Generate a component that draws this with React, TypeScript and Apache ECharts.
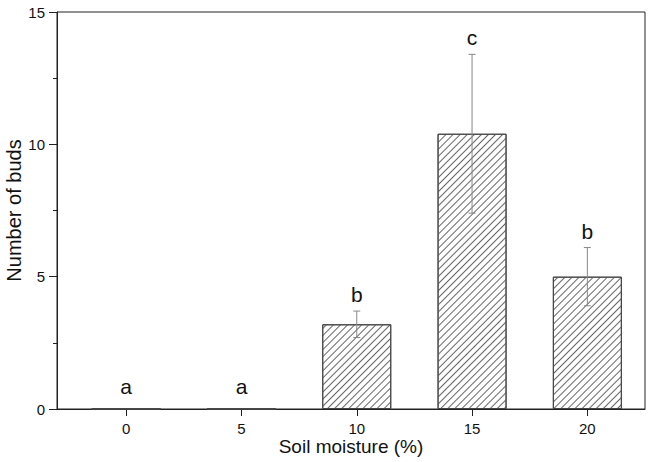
import React, { useEffect, useRef } from "react";
import * as echarts from "echarts";

const moisture = [0, 5, 10, 15, 20];
const buds = [0, 0, 3.2, 10.4, 5.0];
const budErr = [0, 0, 0.5, 3.0, 1.1];
const letters = ["a", "a", "b", "c", "b"];
const xTicks = [0, 5, 10, 15, 20];

const FONT = "'Liberation Sans', Arial, sans-serif";

export default function App() {
  const ref = useRef<HTMLDivElement>(null);
  useEffect(() => {
    document.body.style.margin = "0";
    if (!ref.current) return;
    const chart = echarts.init(ref.current, undefined, { renderer: "svg" });
    const barData = moisture.map((m, i) => [m, buds[i]]);
    const errData = moisture.map((m, i) => [m, buds[i] - budErr[i], buds[i] + budErr[i]]);
    const letterData = moisture.map((m, i) => [m, buds[i] + budErr[i], i]);
    chart.setOption({
      animation: false,
      backgroundColor: "#fff",
      textStyle: { fontFamily: FONT },
      grid: {
        left: 57,
        right: 7,
        top: 12,
        bottom: 53,
        outerBoundsMode: "none",
        containLabel: false,
        show: true,
        borderColor: "#222",
        borderWidth: 1,
        backgroundColor: "transparent",
      },
      xAxis: {
        type: "value",
        min: -3,
        max: 22.5,
        name: "Soil moisture (%)",
        nameLocation: "middle",
        nameGap: 28,
        nameMoveOverlap: false,
        nameTextStyle: { fontSize: 19, lineHeight: 19, color: "#111", fontFamily: FONT },
        axisLine: { show: true, onZero: false, lineStyle: { color: "#222", width: 1 } },
        axisTick: { show: true, customValues: xTicks, length: 7, lineStyle: { color: "#222" } },
        axisLabel: { customValues: xTicks, fontSize: 15, lineHeight: 15, color: "#111", margin: 12, fontFamily: FONT },
        splitLine: { show: false },
      },
      yAxis: {
        type: "value",
        min: 0,
        max: 15,
        interval: 5,
        name: "Number of buds",
        nameLocation: "middle",
        nameGap: 33,
        nameMoveOverlap: false,
        nameTextStyle: { fontSize: 20, color: "#111", fontFamily: FONT },
        axisLine: { show: true, onZero: false, lineStyle: { color: "#222", width: 1 } },
        axisTick: { show: true, length: 8, lineStyle: { color: "#222" } },
        minorTick: { show: true, splitNumber: 2, length: 4, lineStyle: { color: "#222" } },
        axisLabel: { fontSize: 15, color: "#111", margin: 12, fontFamily: FONT },
        splitLine: { show: false },
      },
      series: [
        {
          type: "bar",
          data: barData,
          barWidth: 69,
          itemStyle: {
            color: "#fff",
            borderColor: "#444",
            borderWidth: 1,
            decal: {
              symbol: "rect",
              color: "#666",
              backgroundColor: "#fff",
              dashArrayX: [1, 0],
              dashArrayY: [1, 4],
              rotation: -Math.PI / 4,
            },
          },
        },
        {
          type: "custom",
          data: errData,
          z: 5,
          renderItem: (params: any, api: any) => {
            const x = api.value(0);
            const lo = api.value(1);
            const hi = api.value(2);
            if (hi === lo) return null;
            const t = api.coord([x, hi]);
            const b = api.coord([x, lo]);
            const w = 3.5;
            const st = { stroke: "#888", lineWidth: 1 };
            return {
              type: "group",
              children: [
                { type: "line", shape: { x1: t[0], y1: t[1], x2: b[0], y2: b[1] }, style: st },
                { type: "line", shape: { x1: t[0] - w, y1: t[1], x2: t[0] + w, y2: t[1] }, style: st },
                { type: "line", shape: { x1: b[0] - w, y1: b[1], x2: b[0] + w, y2: b[1] }, style: st },
              ],
            };
          },
        },
        {
          type: "custom",
          data: letterData,
          z: 6,
          renderItem: (params: any, api: any) => {
            const x = api.value(0);
            const top = api.value(1);
            const idx = api.value(2);
            const p = api.coord([x, top]);
            return {
              type: "text",
              x: p[0],
              y: p[1] - (top === 0 ? 12 : 6),
              style: {
                text: letters[idx],
                fontSize: 21,
                fontFamily: FONT,
                fill: "#111",
                align: "center",
                verticalAlign: "bottom",
              },
            };
          },
        },
      ],
    });
    return () => chart.dispose();
  }, []);
  return <div ref={ref} style={{ width: 652, height: 462 }} />;
}
